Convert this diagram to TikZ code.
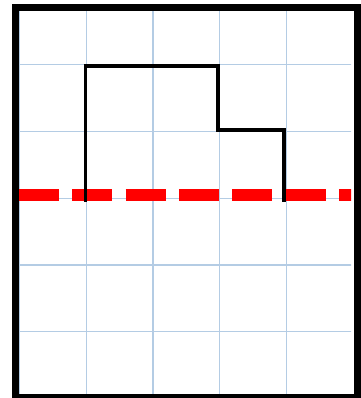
\documentclass[tikz,border=0pt]{standalone}
\definecolor{gridblue}{RGB}{180,204,228}
\tikzset{
  gridline/.style={draw=gridblue, line width=1.3pt},
  frame/.style={draw=black, line width=7pt},
  shape line/.style={draw=black, line width=3.8pt, line join=miter},
  axisline/.style={draw=red, line width=12.5pt, dash pattern=on 40pt off 13.33pt}
}
\begin{document}
\begin{tikzpicture}[x=1pt,y=-1pt]
\useasboundingbox (0,0) rectangle (360,398);
\begin{scope}
  \clip (19,11) rectangle (351,394);
  \foreach \i in {0,...,5} {
    \draw[gridline] ({19.5+\i*66.7},0) -- ({19.5+\i*66.7},398);
  }
  \foreach \j in {-1,...,5} {
    \draw[gridline] (0,{64.7+\j*66.75}) -- (360,{64.7+\j*66.75});
  }
  \draw[axisline] (19,195) -- (360,195);
\end{scope}
\coordinate (p1) at (85.5,201.5);
\coordinate (p2) at (85.5,66);
\coordinate (p3) at (218,66);
\coordinate (p4) at (218,130);
\coordinate (p5) at (284,130);
\coordinate (p6) at (284,201.5);
\draw[shape line] (p1) -- (p2) -- (p3) -- (p4) -- (p5) -- (p6);
\draw[frame] (15.5,7.5) rectangle (357.5,397.5);
\end{tikzpicture}
\end{document}
